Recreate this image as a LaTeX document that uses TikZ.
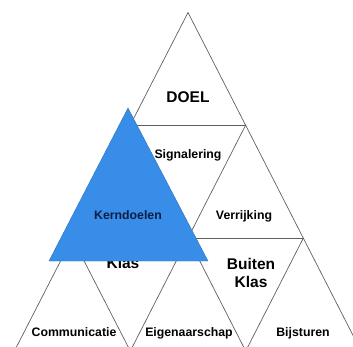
\documentclass[tikz,border=0pt]{standalone}
\usepackage{fontspec}
\setmainfont{Liberation Sans}
\definecolor{kblue}{RGB}{56,141,232}
\definecolor{knavy}{RGB}{12,30,70}
\definecolor{kline}{RGB}{95,95,95}
\begin{document}
\begin{tikzpicture}[x=1pt,y=-1pt,
  grid/.style={draw=kline,line width=0.7pt},
  big/.style={font=\fontsize{15.5}{17}\selectfont\bfseries,anchor=base,inner sep=0pt,text=black},
  small/.style={font=\fontsize{12.3}{14}\selectfont\bfseries,anchor=base,inner sep=0pt,text=black}]
\useasboundingbox (0,0) rectangle (353,346);
\clip (0,0) rectangle (353,346);
% grid coordinates
\coordinate (A) at (188,12.5);
\coordinate (L1) at (130.3,125);
\coordinate (R1) at (245.7,125);
\coordinate (L2) at (72.3,238);
\coordinate (M2) at (188,238);
\coordinate (R2) at (303.4,238);
\coordinate (B0) at (14.4,351);
\coordinate (B1) at (130.3,351);
\coordinate (B2) at (245.7,351);
\coordinate (B3) at (361,351);
% pyramid lines
\draw[grid] (A) -- (B0);
\draw[grid] (A) -- (B3);
\draw[grid] (L1) -- (R1);
\draw[grid] (L2) -- (R2);
\draw[grid] (L1) -- (M2) -- (R1);
\draw[grid] (L2) -- (B1) -- (M2) -- (B2) -- (R2);
% labels
\node[big] (doel) at (188,102) {DOEL};
\node[small] (sig) at (188,158.5) {Signalering};
\node[small] (ver) at (244,219.5) {Verrijking};
\node[big] (klas) at (123,268.5) {Klas};
\node[big,align=center] (buiten) at (251,269) {Buiten};
\node[big] (bklas) at (251,287) {Klas};
\node[small] (comm) at (74,336) {Communicatie};
\node[small] (eig) at (189,336) {Eigenaarschap};
\node[small] (bij) at (303,336) {Bijsturen};
% blue triangle
\coordinate (T) at (128,108);
\coordinate (TL) at (49,261);
\coordinate (TR) at (208,261);
\fill[kblue,draw=kblue!80!black,line width=0.4pt] (T) -- (TL) -- (TR) -- cycle;
\node[small,text=knavy] (kern) at (128,219) {Kerndoelen};
\end{tikzpicture}
\end{document}
